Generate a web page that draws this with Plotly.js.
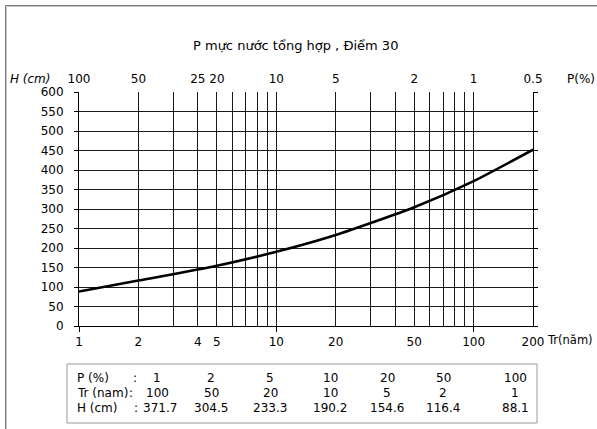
<!DOCTYPE html>
<html>
<head>
<meta charset="utf-8">
<script src="https://cdn.plot.ly/plotly-3.0.1.min.js"></script>
<style>html,body{margin:0;padding:0;background:#fff;}#chart{width:597px;height:429px;}</style>
</head>
<body>
<div id="chart"></div>
<script>
// ---- data ----
const curveTr = [1, 2, 5, 10, 20, 50, 100, 200];
const curveH  = [88.1, 116.4, 154.6, 190.2, 233.3, 304.5, 371.7, 452];

const gridTr = [1,2,3,4,5,6,7,8,9,10,20,30,40,50,60,70,80,90,100,200];
const majorTickTr = [1, 10, 100];
const bottomLabelTr = [1, 2, 4, 5, 10, 20, 50, 100, 200];
const bottomLabelText = ['1','2','4','5','10','20','50','100','200'];
const topLabelTr = [1, 2, 4, 5, 10, 20, 50, 100, 200];
const topLabelText = ['100','50','25','20','10','5','2','1','0.5'];

const tableP  = ['1','2','5','10','20','50','100'];
const tableTr = ['100','50','20','10','5','2','1'];
const tableH  = ['371.7','304.5','233.3','190.2','154.6','116.4','88.1'];

const titleText = 'P mực nước tổng hợp , Điểm 30';

// ---- layout helpers ----
const W = 597, Hh = 429, L = 79, R = 533, T = 92, B = 326;
const px = x => (x - L) / (R - L);
const py = y => (B - y) / (B - T);
const FONT = 'DejaVu Sans, Verdana, sans-serif';
const FS = 12;
const gridCol = '#1a1a1a';
const xr = [0, Math.log10(200)];

const traces = [
  {x: curveTr, y: curveH, type: 'scatter', mode: 'lines',
   line: {color: '#000', width: 2.5, shape: 'spline', smoothing: 0.6},
   xaxis: 'x', yaxis: 'y', hoverinfo: 'skip', showlegend: false},
  {x: [1, 200], y: [null, null], type: 'scatter', mode: 'lines', xaxis: 'x2', yaxis: 'y', hoverinfo: 'skip', showlegend: false},
  {x: [1, 200], y: [null, null], type: 'scatter', mode: 'lines', xaxis: 'x3', yaxis: 'y', hoverinfo: 'skip', showlegend: false}
];

const ann = [];
const addText = (text, x, y, opts) => ann.push(Object.assign({
  text: text, x: px(x), y: py(y), xref: 'paper', yref: 'paper',
  showarrow: false, xanchor: 'center', yanchor: 'middle',
  font: {family: FONT, size: FS, color: '#000'}
}, opts || {}));

addText(titleText, 295, 45, {font: {family: FONT, size: 13, color: '#000'}});
addText('<i>H (cm)</i>', 8, 79, {xanchor: 'left'});
addText('P(%)', 565, 79, {xanchor: 'left'});
addText('Tr(năm)', 545, 340, {xanchor: 'left', font: {family: FONT, size: 11.5, color: '#000'}});

// table
const colX = [157, 211, 270, 330, 387, 443, 515];
const rowY = [378, 393, 408];
addText('P (%)', 75, rowY[0], {xanchor: 'left'});
addText('Tr (nam)', 75, rowY[1], {xanchor: 'left'});
addText('H (cm)', 75, rowY[2], {xanchor: 'left'});
addText(':', 135, rowY[0]);
addText(':', 131, rowY[1]);
addText(':', 136, rowY[2]);
[tableP, tableTr, tableH].forEach((row, ri) => {
  row.forEach((v, ci) => addText(v, colX[ci] + (ri === 2 && ci === 0 ? 3 : 0), rowY[ri]));
});

const shapes = [
  {type: 'rect', xref: 'paper', yref: 'paper', x0: px(67), x1: px(537), y0: py(364), y1: py(423),
   line: {color: '#9a9a9a', width: 1}, fillcolor: 'rgba(0,0,0,0)'},
  {type: 'rect', xref: 'paper', yref: 'paper', x0: px(5.5), x1: px(800), y0: py(5.5), y1: py(800),
   line: {color: '#7a7a7a', width: 1}, fillcolor: 'rgba(0,0,0,0)'},
  {type: 'rect', xref: 'paper', yref: 'paper', x0: px(6.5), x1: px(800), y0: py(6.5), y1: py(800),
   line: {color: '#c8c8c8', width: 1}, fillcolor: 'rgba(0,0,0,0)'}
];

const axFont = {family: FONT, size: FS, color: '#000'};

const layout = {
  width: W, height: Hh,
  margin: {l: L, r: W - R, t: T, b: Hh - B, pad: 0},
  paper_bgcolor: '#fff', plot_bgcolor: '#fff',
  showlegend: false,
  xaxis: {
    type: 'log', range: xr, tickmode: 'array', tickvals: majorTickTr,
    showticklabels: false, ticks: 'outside', ticklen: 5, tickcolor: '#000', tickwidth: 1,
    showgrid: true, gridcolor: gridCol, gridwidth: 1,
    minor: {tickmode: 'array', tickvals: gridTr, showgrid: true, gridcolor: gridCol, gridwidth: 1, ticks: ''},
    showline: true, linecolor: '#000', linewidth: 1, zeroline: false, fixedrange: true
  },
  xaxis3: {
    type: 'log', range: xr, overlaying: 'x', anchor: 'y', side: 'bottom',
    tickmode: 'array', tickvals: bottomLabelTr, ticktext: bottomLabelText,
    ticks: '', showgrid: false, showline: false, zeroline: false,
    tickfont: axFont, ticklabelstandoff: 7, fixedrange: true
  },
  xaxis2: {
    type: 'log', range: xr, overlaying: 'x', anchor: 'y', side: 'top',
    tickmode: 'array', tickvals: topLabelTr, ticktext: topLabelText,
    ticks: '', showgrid: false, showline: false, zeroline: false,
    tickfont: axFont, ticklabelstandoff: 6, fixedrange: true
  },
  yaxis: {
    range: [0, 600], tickmode: 'linear', tick0: 0, dtick: 50,
    ticks: 'outside', ticklen: 4, tickcolor: '#000', tickwidth: 1,
    showgrid: true, gridcolor: gridCol, gridwidth: 1,
    showline: true, linecolor: '#000', linewidth: 1, mirror: 'ticks',
    zeroline: false, tickfont: axFont, ticklabelstandoff: 8, fixedrange: true
  },
  annotations: ann,
  shapes: shapes
};

Plotly.newPlot('chart', traces, layout, {displayModeBar: false, staticPlot: true});
</script>
</body>
</html>
